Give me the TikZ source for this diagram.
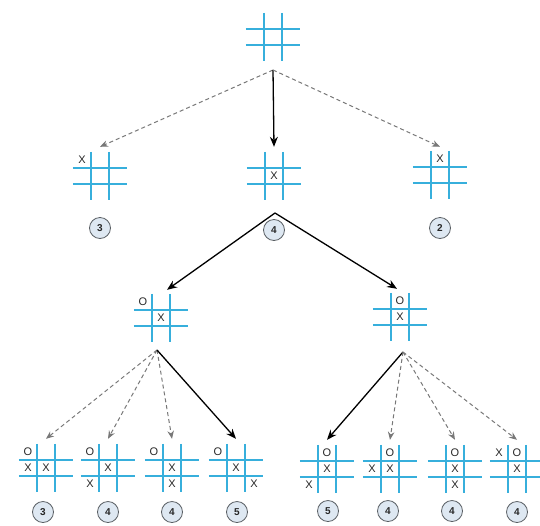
\documentclass[tikz,border=0pt]{standalone}
\usepackage{fontspec}
\setsansfont{Liberation Sans}
\usetikzlibrary{arrows.meta,calc}
\definecolor{gridblue}{RGB}{55,175,220}
\definecolor{markgray}{RGB}{40,40,40}
\definecolor{badgefill}{RGB}{222,232,242}
\definecolor{badgeline}{RGB}{90,95,100}
\definecolor{dashgray}{RGB}{120,120,120}
\tikzset{
  boardbox/.style={rectangle,minimum width=54pt,minimum height=48pt,inner sep=0pt},
  gridline/.style={draw=gridblue,line width=1.5pt},
  markx/.style={font=\sffamily\fontsize{11}{11}\selectfont,text=markgray,inner sep=0pt},
  badge/.style={circle,minimum size=21pt,inner sep=0pt,fill=badgefill,draw=badgeline,line width=0.8pt,font=\sffamily\bfseries\fontsize{10}{10}\selectfont,text=markgray},
  best/.style={draw=black,line width=1.3pt,-{Stealth[length=10pt,width=8pt]}},
  other/.style={draw=dashgray,line width=1pt,dash pattern=on 4pt off 3pt,-{Stealth[length=8pt,width=6.5pt]}},
}
\newcommand\tttboard[2]{%
  \node[boardbox] (#1) at (#2) {};
  \draw[gridline] ([xshift=-9pt]#1.north) -- ([xshift=-9pt]#1.south);
  \draw[gridline] ([xshift=9pt]#1.north) -- ([xshift=9pt]#1.south);
  \draw[gridline] ([yshift=8pt]#1.west) -- ([yshift=8pt]#1.east);
  \draw[gridline] ([yshift=-8pt]#1.west) -- ([yshift=-8pt]#1.east);
}
\newcommand\tttmark[4]{% board, col, row, symbol
  \node[markx] at ($(#1.center)+(#2*18,#3*16)$) {#4};
}
\begin{document}
\begin{tikzpicture}[x=1pt,y=-1pt]
\useasboundingbox[fill=white] (0,0) rectangle (540,525);
% boards
\tttboard{b0}{273,37}
\tttboard{b1a}{100,176}
\tttboard{b1b}{274,176}
\tttboard{b1c}{440,175}
\tttboard{b2a}{161,318}
\tttboard{b2b}{400,317}
\tttboard{c1}{46,468}
\tttboard{c2}{108,468}
\tttboard{c3}{172,468}
\tttboard{c4}{236,468}
\tttboard{c5}{327,469}
\tttboard{c6}{390,469}
\tttboard{c7}{455,469}
\tttboard{c8}{517,469}
% marks
\tttmark{b1a}{-1}{-1}{X}
\tttmark{b1b}{0}{0}{X}
\tttmark{b1c}{0}{-1}{X}
\tttmark{b2a}{-1}{-1}{O}
\tttmark{b2a}{0}{0}{X}
\tttmark{b2b}{0}{-1}{O}
\tttmark{b2b}{0}{0}{X}
\tttmark{c1}{-1}{-1}{O}\tttmark{c1}{-1}{0}{X}\tttmark{c1}{0}{0}{X}
\tttmark{c2}{-1}{-1}{O}\tttmark{c2}{0}{0}{X}\tttmark{c2}{-1}{1}{X}
\tttmark{c3}{-1}{-1}{O}\tttmark{c3}{0}{0}{X}\tttmark{c3}{0}{1}{X}
\tttmark{c4}{-1}{-1}{O}\tttmark{c4}{0}{0}{X}\tttmark{c4}{1}{1}{X}
\tttmark{c5}{0}{-1}{O}\tttmark{c5}{0}{0}{X}\tttmark{c5}{-1}{1}{X}
\tttmark{c6}{0}{-1}{O}\tttmark{c6}{-1}{0}{X}\tttmark{c6}{0}{0}{X}
\tttmark{c7}{0}{-1}{O}\tttmark{c7}{0}{0}{X}\tttmark{c7}{0}{1}{X}
\tttmark{c8}{-1}{-1}{X}\tttmark{c8}{0}{-1}{O}\tttmark{c8}{0}{0}{X}
% badges
\node[badge] (s1a) at (100,228) {3};
\node[badge] (s1b) at (274,230) {4};
\node[badge] (s1c) at (440,228) {2};
\node[badge] (s1) at (43,512) {3};
\node[badge] (s2) at (108,512) {4};
\node[badge] (s3) at (172,512) {4};
\node[badge] (s4) at (237,512) {5};
\node[badge] (s5) at (328,511) {5};
\node[badge] (s6) at (388,511) {4};
\node[badge] (s7) at (452,511) {4};
\node[badge] (s8) at (517,512) {4};
% branch points
\coordinate (p0) at (273,70);
\coordinate (p1) at (275,213);
\coordinate (p2a) at (157,350);
\coordinate (p2b) at (403,352);
% connectors
\draw[other] (p0) -- ([yshift=5pt]b1a.north);
\draw[best] (p0) -- ([yshift=5pt]b1b.north);
\draw[other] (p0) -- ([yshift=4pt]b1c.north);
\draw[best] (p1) -- ([xshift=6pt,yshift=4pt]b2a.north);
\draw[best] (p1) -- ([xshift=-3pt,yshift=4pt]b2b.north);
\draw[other] (p2a) -- ([yshift=5pt]c1.north);
\draw[other] (p2a) -- ([yshift=5pt]c2.north);
\draw[other] (p2a) -- ([yshift=5pt]c3.north);
\draw[best] (p2a) -- ([yshift=5pt]c4.north);
\draw[best] (p2b) -- ([yshift=5pt]c5.north);
\draw[other] (p2b) -- ([yshift=5pt]c6.north);
\draw[other] (p2b) -- ([yshift=5pt]c7.north);
\draw[other] (p2b) -- ([yshift=5pt]c8.north);
\end{tikzpicture}
\end{document}
